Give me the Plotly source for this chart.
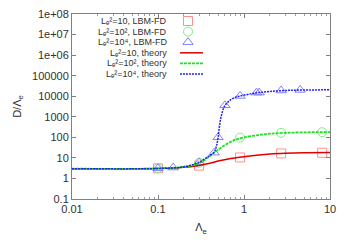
import plotly.graph_objects as go

# ---- data ----
lam_sim = [0.1, 0.3, 0.9, 2.7, 8.1]
d_sim_L10 = [3.1, 4.2, 10.5, 16.5, 17.7]
d_sim_L100 = [3.1, 5.8, 97, 165, 178]

lam_sim_L1e4 = [0.1, 0.15, 0.3, 0.45, 0.5, 0.6, 0.9, 1.4, 1.5, 2.7, 4.5]
d_sim_L1e4 = [3.1, 3.4, 6.0, 18, 100, 3600, 10300, 15000, 15000, 19000, 20300]

lam_th_L10 = [0.01, 0.05, 0.1, 0.15, 0.2, 0.3, 0.4, 0.5, 0.7, 1, 1.5, 2, 3, 5, 10]
d_th_L10 = [3.0, 3.0, 3.05, 3.2, 3.5, 4.3, 5.5, 7.0, 9.3, 11.5, 14, 15.5, 16.8, 17.8, 18.5]

lam_th_L100 = [0.01, 0.1, 0.2, 0.3, 0.35, 0.4, 0.45, 0.5, 0.6, 0.7, 0.8, 1, 1.5, 2, 3, 5, 10]
d_th_L100 = [3.0, 3.05, 3.7, 5.5, 8, 12, 18, 25, 42, 60, 78, 100, 130, 150, 165, 175, 180]

lam_th_L1e4 = [0.01, 0.1, 0.2, 0.3, 0.35, 0.4, 0.45, 0.48, 0.5, 0.52, 0.55, 0.6,
               0.7, 0.8, 0.9, 1.2, 1.5, 2, 3, 5, 10]
d_th_L1e4 = [3.0, 3.05, 3.7, 6, 9, 13, 19, 40, 100, 400, 1300, 3500,
             6800, 9000, 10300, 13000, 15000, 17000, 19000, 20000, 20500]

y_tickvals = [0.1, 1, 10, 100, 1000, 10000, 100000, 1e6, 1e7, 1e8]
y_ticktext = ["0.1", "1", "10", "100", "1000", "10000", "100000", "1e+06", "1e+07", "1e+08"]
x_tickvals = [0.01, 0.1, 1, 10]
x_ticktext = ["0.01", "0.1", "1", "10"]

labels = [
    "Lₑ²=10, LBM-FD",
    "Lₑ²=10², LBM-FD",
    "Lₑ²=10⁴, LBM-FD",
    "Lₑ²=10, theory",
    "Lₑ²=10², theory",
    "Lₑ²=10⁴, theory",
]

# ---- styles ----
FONT = "Liberation Sans, Arial, DejaVu Sans"
TXT = "#303030"
styles = [
    dict(mode="markers", marker=dict(symbol="square-open", color="#ff9090", size=9, line=dict(width=1))),
    dict(mode="markers", marker=dict(symbol="circle-open", color="#80ee80", size=9, line=dict(width=1))),
    dict(mode="markers", marker=dict(symbol="triangle-up-open", color="#8080ff", size=9, line=dict(width=1))),
    dict(mode="lines", line=dict(color="#e00000", width=1.5, shape="spline")),
    dict(mode="lines", line=dict(color="#20e020", width=1.8, dash="3px,1px", shape="spline")),
    dict(mode="lines", line=dict(color="#2020ff", width=1.5, dash="2px,1px", shape="spline")),
]
series = [
    (lam_sim, d_sim_L10), (lam_sim, d_sim_L100), (lam_sim_L1e4, d_sim_L1e4),
    (lam_th_L10, d_th_L10), (lam_th_L100, d_th_L100), (lam_th_L1e4, d_th_L1e4),
]

# plot area in pixels (layout)
W, H = 350, 245
ML, MR, MT, MB = 72, 20, 14, 46
PW, PH = W - ML - MR, H - MT - MB

# gnuplot-style key layout (pixel positions)
KEY_TEXT_RIGHT = 168
KEY_SYM_X = 188
KEY_LINE_X = (180, 203)
KEY_ROW_Y = [21, 31.6, 42.2, 52.8, 63.4, 74]

fig = go.Figure()
for (xs, ys), st, lab in zip(series, styles, labels):
    fig.add_trace(go.Scatter(x=xs, y=ys, name=lab, showlegend=False, **st))

# key samples on an overlay axis measured in pixels
for st, ry in zip(styles, KEY_ROW_Y):
    if st["mode"] == "markers":
        kx, ky = [KEY_SYM_X], [ry]
    else:
        kx, ky = list(KEY_LINE_X), [ry, ry]
    s2 = dict(st)
    if "line" in s2:
        s2["line"] = {k: v for k, v in s2["line"].items() if k != "shape"}
    fig.add_trace(go.Scatter(x=kx, y=ky, xaxis="x2", yaxis="y2", showlegend=False,
                             hoverinfo="skip", **s2))
for lab, ry in zip(labels, KEY_ROW_Y):
    fig.add_annotation(x=(KEY_TEXT_RIGHT - ML) / PW, y=(H - MB - ry) / PH, xref="paper", yref="paper",
                       text=lab, showarrow=False, xanchor="right", yanchor="middle",
                       font=dict(family=FONT, size=9, color=TXT), borderpad=0)

axis_common = dict(showline=True, linecolor="#808080", linewidth=1, mirror="allticks",
                   ticks="inside", ticklen=4, tickcolor="#808080", showgrid=False, zeroline=False,
                   tickfont=dict(family=FONT, size=11, color=TXT))

fig.update_layout(
    xaxis=dict(type="log", range=[-2, 1], tickvals=x_tickvals, ticktext=x_ticktext,
               minor=dict(ticks="inside", ticklen=2, tickcolor="#a0a0a0", dtick="D1"),
               title=dict(text="Λ<sub>e</sub>", font=dict(family=FONT, size=11, color=TXT), standoff=9),
               **axis_common),
    yaxis=dict(type="log", range=[-1, 8], tickvals=y_tickvals, ticktext=y_ticktext,
               title=dict(text="D/Λ<sub>e</sub>", font=dict(family=FONT, size=11, color=TXT), standoff=8),
               **axis_common),
    xaxis2=dict(type="linear", overlaying="x", range=[ML, W - MR], visible=False, fixedrange=True),
    yaxis2=dict(type="linear", overlaying="y", range=[H - MB, MT], visible=False, fixedrange=True),
    width=W, height=H,
    margin=dict(l=ML, r=MR, t=MT, b=MB, autoexpand=False),
    plot_bgcolor="white", paper_bgcolor="white",
    showlegend=False,
)

fig.write_html("out.html", config={"displayModeBar": False},
               post_script="document.body.style.margin='0';document.body.style.overflow='hidden';")
